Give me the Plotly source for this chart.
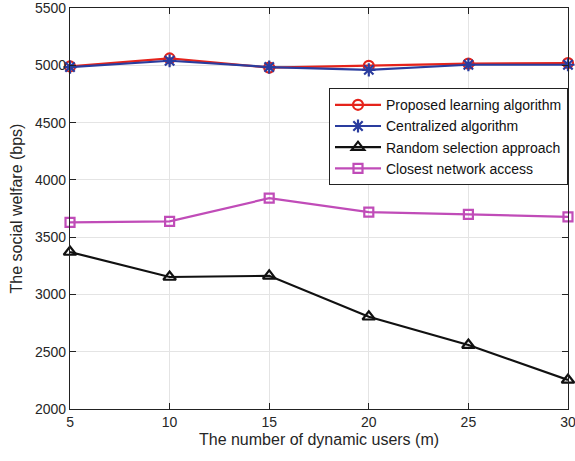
import plotly.graph_objects as go

users = [5, 10, 15, 20, 25, 30]
proposed = [4990, 5060, 4980, 4995, 5015, 5020]
centralized = [4985, 5040, 4985, 4960, 5005, 5005]
random_sel = [3370, 3152, 3162, 2805, 2558, 2253]
closest = [3628, 3637, 3840, 3718, 3698, 3677]
y_ticks = [2000, 2500, 3000, 3500, 4000, 4500, 5000, 5500]

names = ["Proposed learning algorithm", "Centralized algorithm",
         "Random selection approach", "Closest network access"]
series = [proposed, centralized, random_sel, closest]
colors = ["#e5231b", "#2a3c9e", "#111111", "#c04cb8"]
symbols = ["circle-open", "asterisk-open", "triangle-up-open", "square-open"]
sizes = [10, 11, 11, 9]

fig = go.Figure()
for n, s, c, sym, sz in zip(names, series, colors, symbols, sizes):
    fig.add_trace(go.Scatter(
        x=users, y=s, name=n, mode="lines+markers",
        line=dict(color=c, width=2.2),
        marker=dict(symbol=sym, size=sz, color=c, line=dict(color=c, width=2.2)),
        cliponaxis=False,
    ))

axis_common = dict(
    showline=True, linecolor="#222", linewidth=1.2, mirror="ticks",
    ticks="inside", ticklen=6, tickcolor="#222",
    showgrid=True, gridcolor="#e4e4e4", gridwidth=1,
    zeroline=False, ticklabeloverflow="allow", automargin=False,
    tickfont=dict(family="Liberation Sans, Arial", size=14, color="#262626"),
)

fig.update_layout(
    width=575, height=461,
    margin=dict(l=70, r=7, t=8, b=52),
    paper_bgcolor="white", plot_bgcolor="white",
    font=dict(family="Liberation Sans, Arial", color="#262626"),
    xaxis=dict(range=[4.999, 30.001], tickvals=users,
               title=dict(text="The number of dynamic users (m)", font=dict(size=16), standoff=4),
               **axis_common),
    yaxis=dict(range=[1999.5, 5500.5], tickvals=y_ticks,
               title=dict(text="The social welfare (bps)", font=dict(size=16), standoff=8),
               **axis_common),
    legend=dict(x=1, xanchor="right", y=0.80, yanchor="top",
                bgcolor="white", bordercolor="#222", borderwidth=1,
                font=dict(size=14, color="#111"),
                tracegroupgap=0, itemwidth=46),
    showlegend=True,
)

fig.write_html("out.html")
